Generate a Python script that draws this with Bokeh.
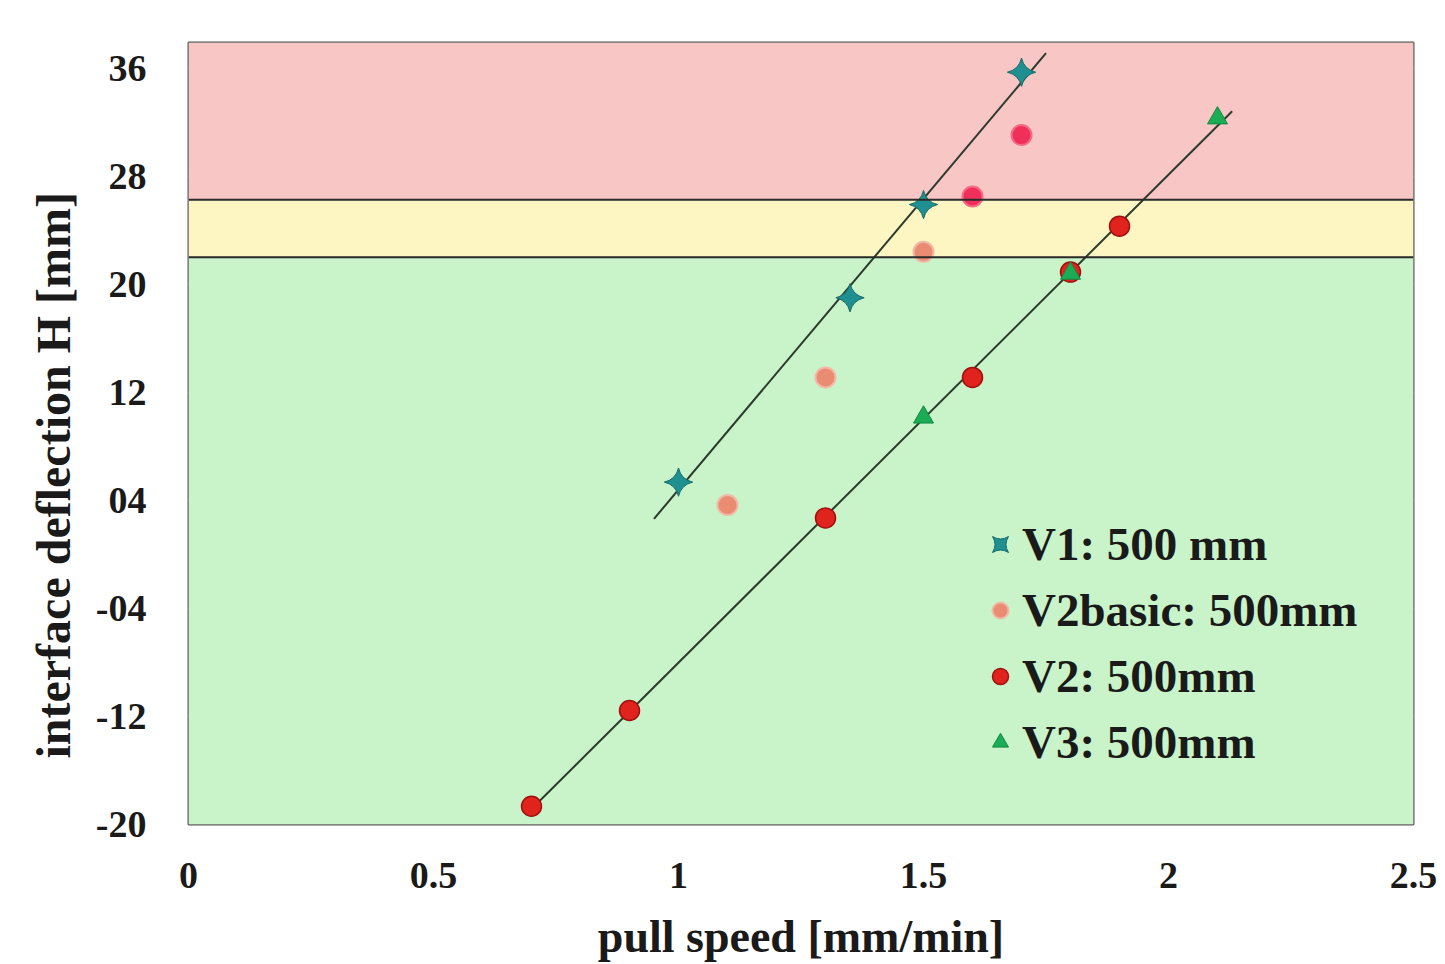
import numpy as np
from bokeh.plotting import figure
from bokeh.models import BoxAnnotation, Span, Range1d, FixedTicker, Legend, LegendItem, Title
from bokeh.embed import file_html
from bokeh.resources import INLINE

# ---- data ----
v1_x = [1.0, 1.35, 1.5, 1.7]
v1_y = [5.35, 19.0, 25.9, 35.7]

v2basic_x = [1.1, 1.3, 1.5, 1.6, 1.7]
v2basic_y = [3.65, 13.1, 22.4, 26.5, 31.05]

v2_x = [0.7, 0.9, 1.3, 1.6, 1.8, 1.9]
v2_y = [-18.65, -11.56, 2.7, 13.1, 20.9, 24.3]

v3_x = [1.5, 1.8, 2.1]
v3_y = [10.15, 20.8, 32.3]

fit1_xrange = [0.95, 1.75]
fit2_xrange = [0.7, 2.13]

zone_limits = [22.0, 26.25]   # green / yellow / red boundaries

y_ticks = [-20, -12, -4, 4, 12, 20, 28, 36]
y_tick_labels = ["-20", "-12", "-04", "04", "12", "20", "28", "36"]
x_ticks = [0, 0.5, 1, 1.5, 2, 2.5]
x_tick_labels = ["0", "0.5", "1", "1.5", "2", "2.5"]

# ---- styling ----
FONT = "Liberation Serif"
v2basic_fill = ["#e98c72", "#e98c72", "#e98c72", "#f0305a", "#f0305a"]
v2basic_edge = ["#f2b8a8", "#f2b8a8", "#f2b8a8", "#f56a85", "#f56a85"]

p = figure(width=1445, height=964, output_backend="svg", toolbar_location=None,
           x_range=Range1d(0, 2.5), y_range=Range1d(-20, 37.9),
           min_border_left=188, min_border_right=32, min_border_top=42, min_border_bottom=138)
p.background_fill_color = "#c9f4c9"
p.border_fill_color = "white"
p.outline_line_color = "#555555"
p.outline_line_width = 2

# zones
p.add_layout(BoxAnnotation(bottom=zone_limits[1], fill_color="#f9c6c6", fill_alpha=1.0, level="underlay"))
p.add_layout(BoxAnnotation(bottom=zone_limits[0], top=zone_limits[1], fill_color="#fdf6c2", fill_alpha=1.0, level="underlay"))
p.add_layout(BoxAnnotation(top=zone_limits[0], fill_color="#c9f4c9", fill_alpha=1.0, level="underlay"))
for lim in zone_limits:
    p.add_layout(Span(location=lim, dimension="width", line_color="#2a2a2a", line_width=2))

# grid
p.xgrid.visible = False
p.ygrid.grid_line_color = "white"
p.ygrid.grid_line_alpha = 0.45
p.ygrid.grid_line_width = 2
p.ygrid.ticker = FixedTicker(ticks=y_ticks)

# fit lines
c1 = np.polyfit(v1_x, v1_y, 1)
fx1 = np.array(fit1_xrange)
p.line(fx1, np.polyval(c1, fx1), line_color="#2b3a2b", line_width=2)
c2 = np.polyfit(v2_x + v3_x, v2_y + v3_y, 1)
fx2 = np.array(fit2_xrange)
p.line(fx2, np.polyval(c2, fx2), line_color="#2b3a2b", line_width=2)

# markers
r1 = p.scatter(v1_x, v1_y, marker="square_pin", angle=np.pi / 4, size=20,
               fill_color="#1f8f8f", line_color="#156b6b")
r2 = p.scatter(v2basic_x, v2basic_y, marker="circle", size=20,
               fill_color=v2basic_fill, line_color=v2basic_edge, line_width=2)
r3 = p.scatter(v2_x, v2_y, marker="circle", size=20, fill_color="#e0231d", line_color="#a01010", line_width=1.5)
r4 = p.scatter(v3_x, v3_y, marker="triangle", size=20, fill_color="#1aad55", line_color="#128a40")

legend = Legend(items=[
    LegendItem(label="V1: 500 mm", renderers=[r1], index=0),
    LegendItem(label="V2basic: 500mm", renderers=[r2], index=0),
    LegendItem(label="V2: 500mm", renderers=[r3]),
    LegendItem(label="V3: 500mm", renderers=[r4]),
], location=(792, 55))
legend.background_fill_alpha = 0
legend.border_line_alpha = 0
legend.label_text_font = FONT
legend.label_text_font_style = "bold"
legend.label_text_font_size = "47px"
legend.label_text_color = "#1a1a1a"
legend.glyph_width = 40
legend.glyph_height = 40
legend.label_height = 50
legend.spacing = 12
legend.padding = 0
legend.margin = 0
legend.label_standoff = 2
p.add_layout(legend)

# axes
p.xaxis.ticker = FixedTicker(ticks=x_ticks)
p.xaxis.major_label_overrides = {t: l for t, l in zip(x_ticks, x_tick_labels)}
p.yaxis.ticker = FixedTicker(ticks=y_ticks)
p.yaxis.major_label_overrides = {t: l for t, l in zip(y_ticks, y_tick_labels)}
for ax in (p.xaxis[0], p.yaxis[0]):
    ax.axis_line_color = None
    ax.major_tick_line_color = None
    ax.minor_tick_line_color = None
    ax.major_label_text_font = FONT
    ax.major_label_text_font_style = "bold"
    ax.major_label_text_font_size = "38px"
    ax.major_label_text_color = "#1a1a1a"
    ax.axis_label_text_font = FONT
    ax.axis_label_text_font_style = "bold"
    ax.axis_label_text_font_size = "46px"
    ax.axis_label_text_color = "#1a1a1a"
p.xaxis.axis_label = "pull speed [mm/min]"
p.xaxis.major_label_standoff = 32
p.yaxis.major_label_standoff = 36
p.xaxis.axis_label_standoff = 20

ytitle = Title(text="interface deflection H [mm]", align="left", offset=66,
               text_font=FONT, text_font_style="bold", text_font_size="48px",
               text_color="#1a1a1a", standoff=26)
p.add_layout(ytitle, "left")

open("out.html", "w").write(file_html(p, INLINE))
